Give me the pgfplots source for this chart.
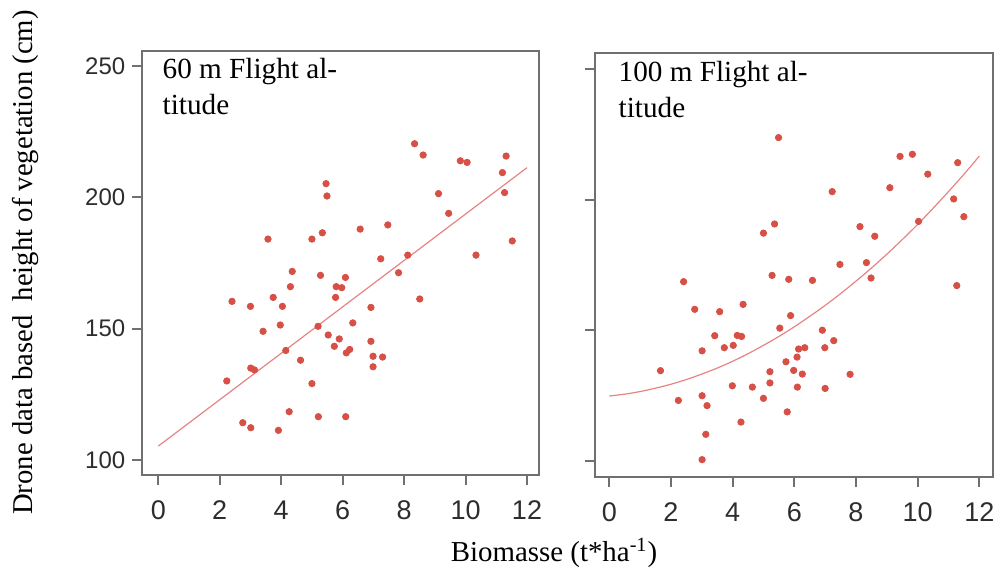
\documentclass[border=0pt]{standalone}
\usepackage{fontspec}
\setmainfont{Liberation Serif}
\newfontfamily\arialfont{Liberation Sans}
\usepackage{pgfplots}
\pgfplotsset{compat=1.18}

\definecolor{framegray}{RGB}{112,112,112}
\definecolor{ptred}{RGB}{214,80,70}
\definecolor{fitred}{RGB}{230,132,132}
\definecolor{labgray}{RGB}{45,45,45}

\pgfplotsset{
  rpanel/.style={
    scale only axis,
    axis line style={framegray, line width=1pt},
    tick style={framegray, line width=1pt},
    tick align=outside,
    major tick length=5pt,
    xtick={0,2,...,12},
    ytick={100,150,200,250},
    xtick pos=bottom, ytick pos=left,
    /pgf/number format/assume math mode=true,
    xticklabel style={font=\arialfont\fontsize{13.5}{14}\selectfont, text=labgray, yshift=-4.5pt},
    yticklabel style={font=\arialfont\fontsize{12}{13}\selectfont, text=labgray},
  },
  pts/.style={only marks, mark=*, mark size=1.6pt, color=ptred},
  fit/.style={fitred, line width=0.6pt, mark=none},
}
\tikzset{ttl/.style={anchor=base west, inner sep=0pt, font=\fontsize{14.6}{16}\selectfont}}

\begin{document}
\begin{tikzpicture}
\path[use as bounding box] (-71.15pt,-49.5pt) rectangle (426.35pt,237.5pt);

% 60 m panel
\begin{axis}[rpanel, at={(0pt,0pt)}, anchor=south west,
  width=198.5pt, height=212pt,
  xmin=-0.52, xmax=12.4, ymin=94.3, ymax=255.7]
\addplot[pts] coordinates {
(8.34,220.4) (8.62,216.1) (9.83,213.9) (10.05,213.3) (11.32,215.7) (11.20,209.4)
(11.27,201.8) (11.52,183.4) (10.34,178.0) (9.12,201.4) (9.45,193.9) (5.46,205.2)
(5.49,200.5) (7.47,189.5) (6.57,187.9) (5.34,186.5) (5.00,184.1) (3.57,184.1)
(8.12,178.0) (7.24,176.6) (7.82,171.3) (4.36,171.8) (5.28,170.3) (6.09,169.5)
(4.30,166.0) (5.79,166.0) (5.97,165.6) (5.77,161.9) (3.74,161.9) (2.40,160.4)
(3.00,158.5) (4.04,158.5) (8.51,161.3) (6.92,158.1) (6.33,152.2) (3.97,151.4)
(5.20,150.9) (3.41,149.0) (5.53,147.6) (5.89,146.1) (6.92,145.2) (5.73,143.3)
(6.23,142.1) (6.12,140.8) (4.15,141.7) (6.99,139.5) (7.30,139.2) (4.63,138.0)
(6.99,135.5) (3.01,135.0) (3.13,134.3) (2.23,130.1) (5.00,129.1) (4.26,118.4)
(5.21,116.5) (6.10,116.5) (2.75,114.2) (3.01,112.3) (3.91,111.3)
};
\addplot[fit] coordinates {(0,105.3) (12,211.3)};
\node[ttl, xshift=10pt, yshift=-14pt] at (axis description cs:0,1) {60 m Flight al-};
\node[ttl, xshift=10pt, yshift=-31.5pt] at (axis description cs:0,1) {titude};
\end{axis}

% 100 m panel
\begin{axis}[rpanel, at={(226.35pt,-0.85pt)}, anchor=south west,
  width=198.85pt, height=211.7pt,
  xmin=-0.464, xmax=12.436, ymin=93.87, ymax=256.1,
  yticklabels={}]
\addplot[pts] coordinates {
(5.49,223.8) (9.43,216.6) (9.83,217.4) (11.30,214.2) (10.33,209.8) (9.10,204.6)
(7.23,203.1) (11.17,200.3) (11.50,193.5) (10.03,191.7) (5.36,190.7) (5.00,187.2)
(8.13,189.7) (8.61,186.0) (7.48,175.2) (8.34,175.9) (8.49,170.0) (11.27,167.1)
(5.28,171.0) (5.82,169.5) (6.59,169.1) (2.41,168.6) (2.77,158.0) (3.58,157.1)
(4.34,159.9) (5.88,155.6) (5.53,150.8) (6.91,150.0) (3.42,147.9) (4.15,148.0)
(4.29,147.6) (3.73,143.3) (4.02,144.2) (3.01,142.1) (7.28,146.0) (6.99,143.3)
(6.14,142.8) (6.34,143.3) (6.09,139.7) (5.73,137.9) (1.66,134.5) (5.21,134.1)
(5.98,134.6) (6.26,133.2) (7.81,133.1) (5.21,129.8) (3.99,128.7) (4.64,128.2)
(6.10,128.2) (7.00,127.7) (3.01,124.9) (2.24,123.1) (5.00,123.9) (3.17,121.1)
(5.77,118.7) (4.27,114.8) (3.13,110.1) (3.01,100.4)
};
\addplot[fit, smooth] coordinates {
(0,124.8) (0.5,125.5) (1,126.5) (1.5,127.8) (2,129.3) (2.5,131.1) (3,133.2)
(3.5,135.5) (4,138.1) (4.5,141.0) (5,144.2) (5.5,147.6) (6,151.3) (6.5,155.3)
(7,159.5) (7.5,164.0) (8,168.8) (8.5,173.8) (9,179.1) (9.5,184.7) (10,190.5)
(10.5,196.7) (11,203.1) (11.5,209.7) (12,216.7)
};
\node[ttl, xshift=11.65pt, yshift=-14.2pt] at (axis description cs:0,1) {100 m Flight al-};
\node[ttl, xshift=11.65pt, yshift=-31.9pt] at (axis description cs:0,1) {titude};
\end{axis}

\node[rotate=90, anchor=base, font=\fontsize{14.35}{16}\selectfont]
  at (-54.65pt,106.25pt) {Drone data based\ \ height of vegetation (cm)};
\node[anchor=base, font=\fontsize{14.45}{16}\selectfont]
  at (205.85pt,-43.35pt) {Biomasse (t*ha\textsuperscript{-1})};
\end{tikzpicture}
\end{document}
